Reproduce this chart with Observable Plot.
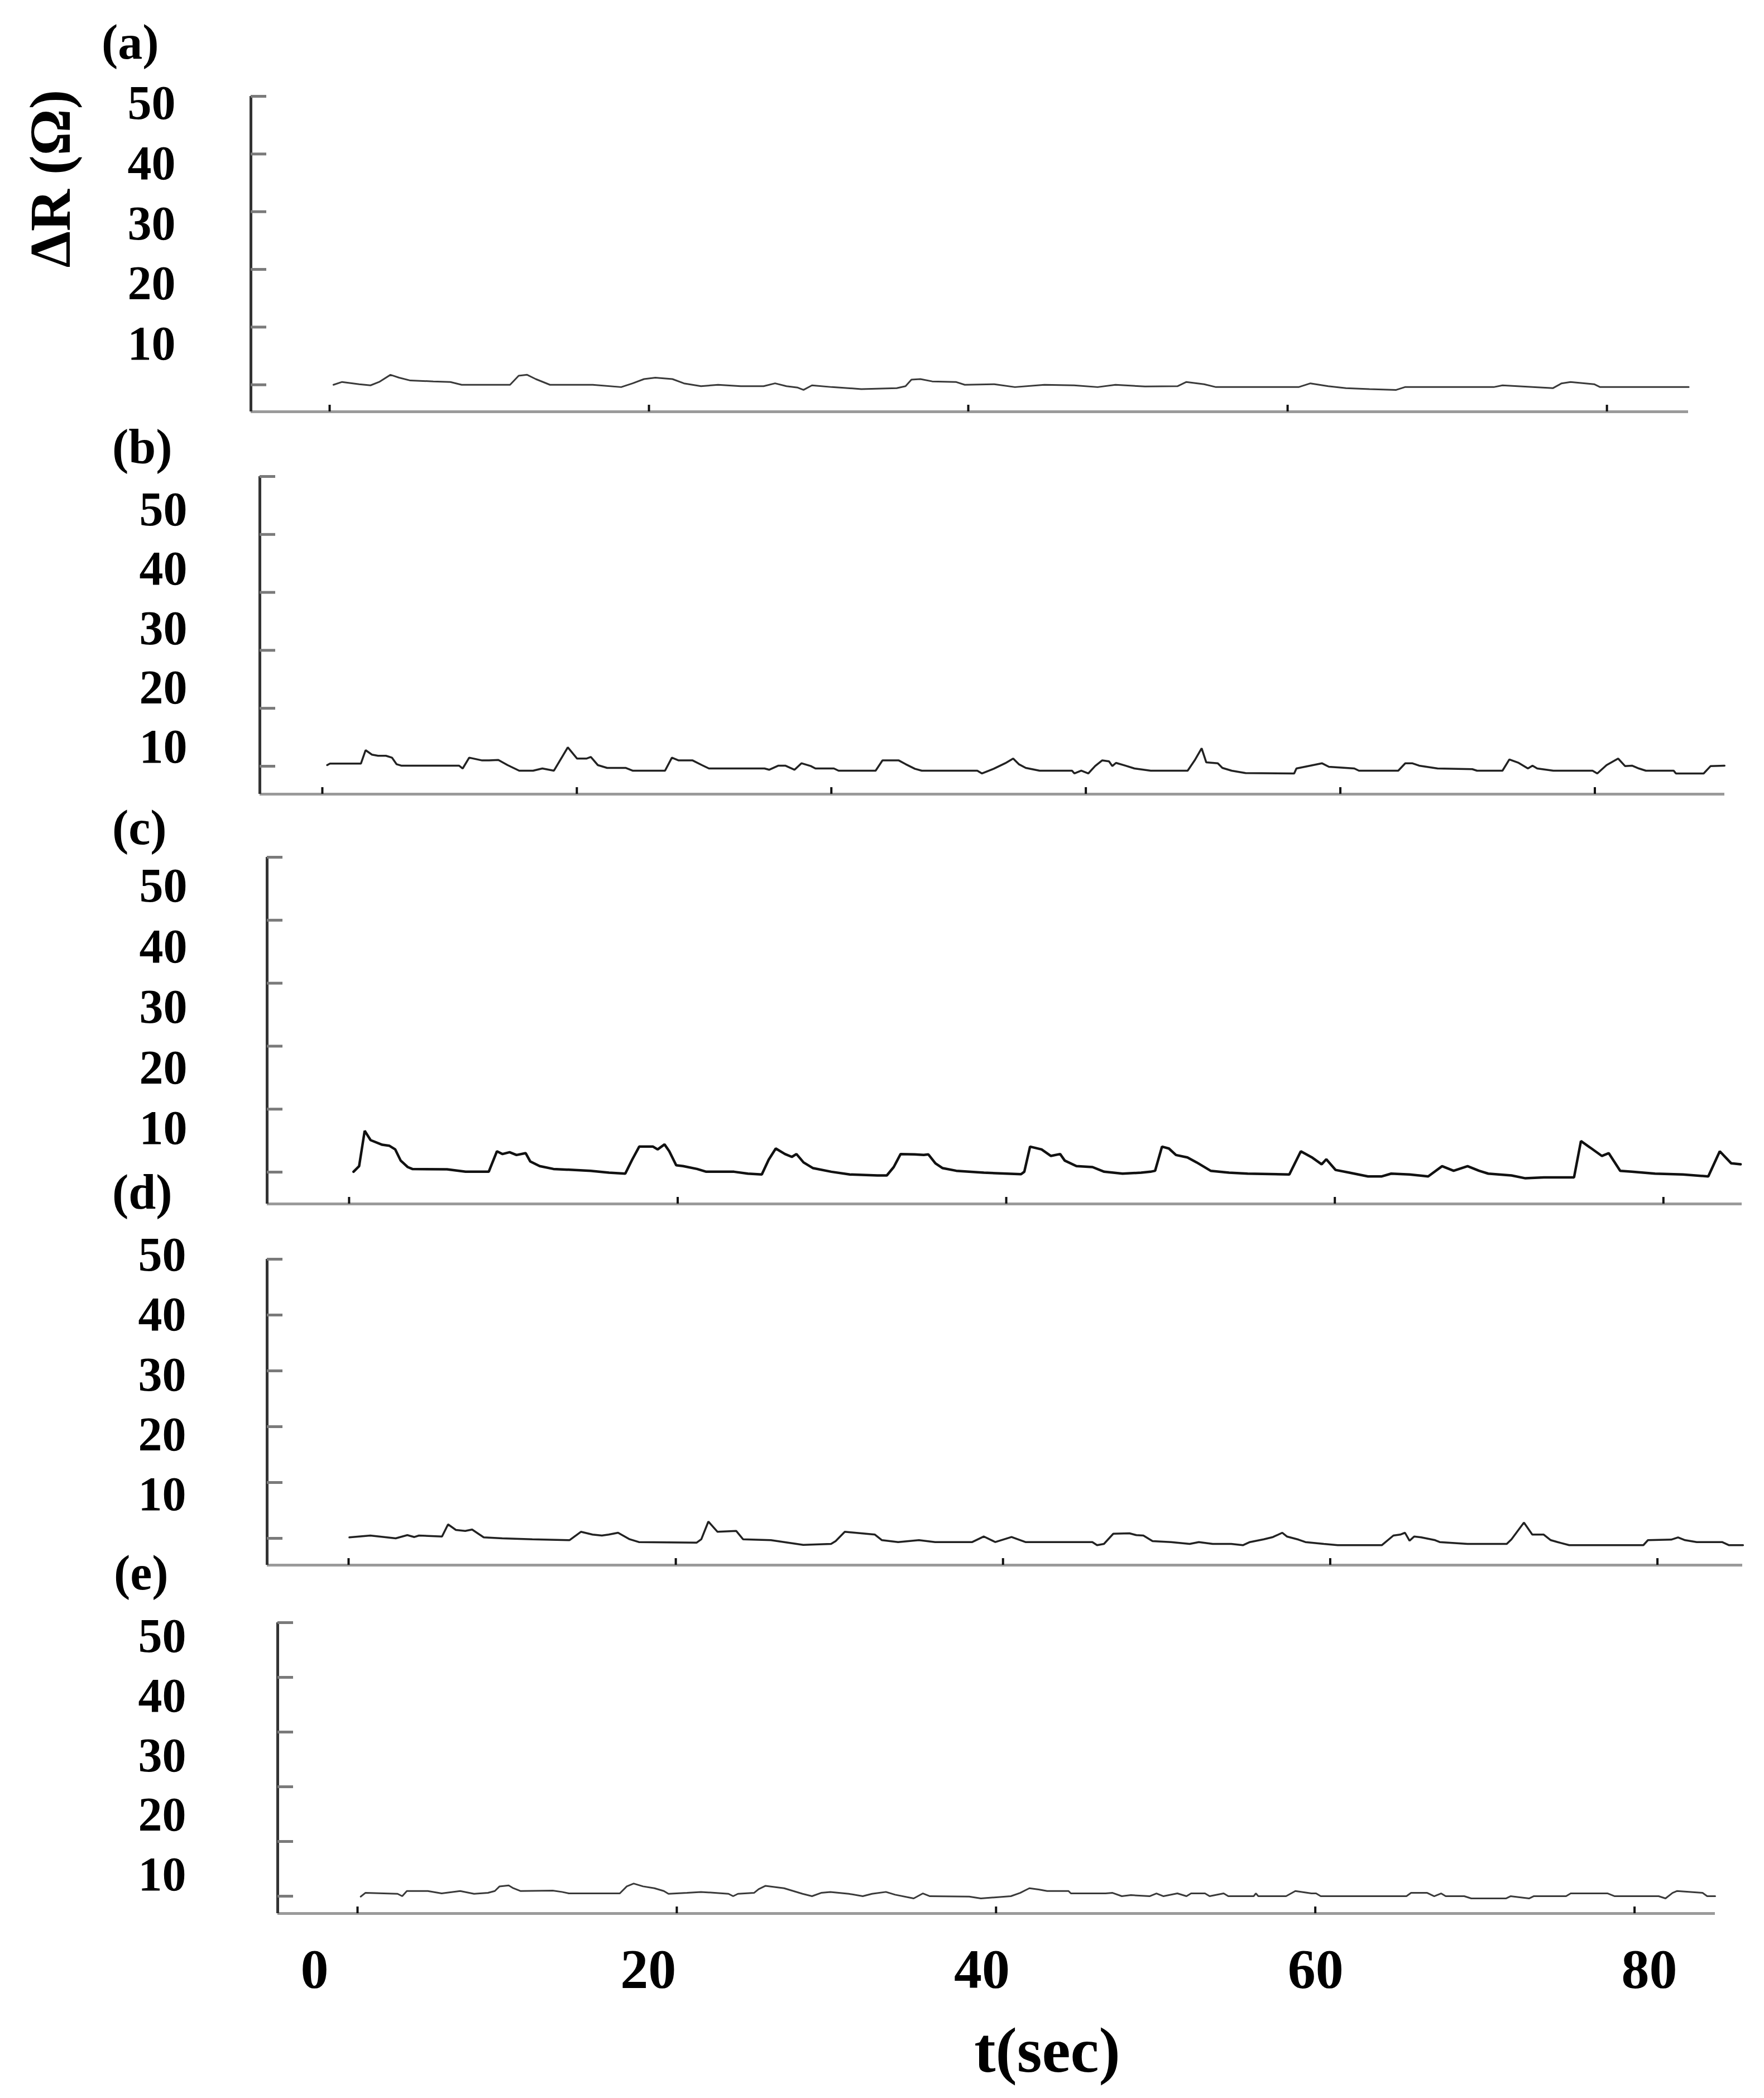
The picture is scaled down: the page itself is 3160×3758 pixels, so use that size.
<!DOCTYPE html>
<html><head><meta charset="utf-8">
<script src="https://cdn.jsdelivr.net/npm/d3@7"></script>
<script src="https://cdn.jsdelivr.net/npm/@observablehq/plot@0.6"></script>
<style>
html,body{margin:0;padding:0;background:#fff;}
#chart{position:relative;width:3160px;height:3758px;background:#fff;overflow:hidden;font-family:'Liberation Serif','Times New Roman',serif;font-weight:bold;color:#000;}
#chart svg{position:absolute;left:0;top:0;}
.lab{position:absolute;line-height:1;white-space:nowrap;font-family:'Liberation Serif','Times New Roman',serif;font-weight:bold;}
</style></head><body><div id="chart"></div>
<script>
// ---- data: [t (sec), ΔR (Ω)] ----
const seriesA = [[0.24,0],[0.78,0.49],[1.85,0.1],[2.56,-0.1],[3.1,0.49],[3.81,1.73],[4.35,1.23],[5.06,0.74],[6.49,0.59],[7.56,0.49],[8.27,0],[11.3,0],[11.84,1.58],[12.37,1.73],[12.91,0.99],[13.8,0],[16.48,0],[18.26,-0.4],[18.98,0.25],[19.69,0.99],[20.4,1.23],[21.47,0.99],[22.19,0.25],[23.26,-0.25],[24.33,0],[25.75,-0.25],[27.18,-0.25],[27.9,0.25],[28.61,-0.25],[29.32,-0.49],[29.68,-0.89],[30.21,-0.1],[31.46,-0.4],[33.3,-0.74],[35.52,-0.59],[36.07,-0.25],[36.44,0.89],[37.0,0.99],[37.74,0.59],[39.22,0.49],[39.78,0],[41.63,0.1],[42.92,-0.4],[44.77,0],[46.63,-0.1],[48.1,-0.4],[49.22,0],[51.07,-0.3],[53.1,-0.25],[53.66,0.49],[54.77,0.1],[55.51,-0.4],[60.69,-0.4],[61.43,0.25],[62.54,-0.25],[63.65,-0.59],[65.13,-0.74],[66.8,-0.89],[67.35,-0.4],[68.83,-0.4],[72.91,-0.4],[73.46,-0.1],[76.61,-0.59],[77.16,0.25],[77.72,0.49],[79.2,0.1],[79.57,-0.4],[85.12,-0.4]];

const seriesB = [[0.38,0.19],[0.6,0.45],[3.03,0.45],[3.4,2.77],[3.9,2.0],[4.38,1.8],[5.0,1.8],[5.47,1.48],[5.83,0.35],[6.2,0.1],[10.74,0.1],[11.03,-0.39],[11.54,1.48],[12.56,1.0],[13.1,1.0],[13.83,1.09],[14.56,0.19],[15.47,-0.77],[16.56,-0.77],[17.29,-0.39],[18.2,-0.77],[19.29,3.25],[20.02,1.32],[20.75,1.32],[21.1,1.6],[21.65,0.19],[22.38,-0.29],[23.83,-0.29],[24.38,-0.77],[26.93,-0.77],[27.47,1.48],[28.0,1.0],[29.1,1.0],[29.83,0.19],[30.38,-0.39],[34.75,-0.39],[35.11,-0.61],[35.84,0.1],[36.38,0.1],[37.11,-0.61],[37.65,0.51],[38.38,0.03],[38.75,-0.39],[40.2,-0.39],[40.57,-0.77],[43.48,-0.77],[44.02,1.0],[45.3,1.0],[45.84,0.35],[46.57,-0.45],[47.11,-0.77],[51.47,-0.77],[51.84,-1.25],[52.75,-0.45],[53.66,0.51],[54.29,1.32],[54.73,0.35],[55.28,-0.29],[56.37,-0.77],[58.91,-0.77],[59.1,-1.25],[59.64,-0.77],[60.19,-1.25],[60.73,0.03],[61.28,1.0],[61.82,0.84],[62.08,0.03],[62.37,0.58],[63.1,0.1],[63.82,-0.39],[65.1,-0.77],[68.0,-0.77],[68.55,1.0],[69.1,3.09],[69.46,0.68],[70.37,0.51],[70.73,-0.29],[71.46,-0.77],[72.55,-1.19],[76.37,-1.25],[76.55,-0.39],[77.64,0.1],[78.55,0.51],[79.1,-0.1],[81.1,-0.39],[81.46,-0.77],[84.55,-0.77],[85.1,0.51],[85.64,0.51],[86.19,0.1],[87.64,-0.39],[90.37,-0.51],[90.74,-0.77],[92.74,-0.77],[93.28,1.16],[94.01,0.58],[94.74,-0.39],[95.1,0.1],[95.47,-0.39],[96.74,-0.77],[99.82,-0.77],[100.19,-1.25],[100.92,0.19],[101.83,1.32],[102.37,0.03],[102.92,0.1],[103.46,-0.39],[104.01,-0.77],[106.19,-0.77],[106.37,-1.25],[108.55,-1.25],[109.1,0.03],[110.19,0.1]];

const seriesC = [[0.27,0.06],[0.61,0.95],[0.95,6.56],[1.31,5.08],[2.02,4.34],[2.44,4.2],[2.81,3.6],[3.14,1.83],[3.57,0.8],[3.85,0.5],[5.96,0.44],[7.09,0.06],[8.5,0.06],[9.0,3.31],[9.34,2.87],[9.77,3.16],[10.19,2.72],[10.75,3.01],[11.03,1.68],[11.6,0.95],[12.44,0.5],[14.7,0.21],[15.82,-0.09],[16.81,-0.24],[17.23,1.98],[17.66,4.05],[18.5,4.05],[18.78,3.6],[19.2,4.4],[19.49,3.31],[19.91,1.09],[20.33,0.95],[21.18,0.5],[21.74,0.06],[23.43,0.06],[24.27,-0.24],[25.12,-0.38],[25.54,1.98],[25.97,3.75],[26.53,2.87],[26.95,2.42],[27.23,2.87],[27.66,1.54],[28.22,0.65],[29.35,0.06],[30.48,-0.38],[32.16,-0.53],[32.73,-0.53],[33.15,0.8],[33.57,2.87],[34.42,2.81],[34.98,2.72],[35.26,2.81],[35.69,1.39],[36.11,0.65],[36.96,0.21],[38.64,-0.09],[40.9,-0.33],[41.1,0.06],[41.45,4.05],[42.15,3.6],[42.72,2.57],[43.28,2.87],[43.56,1.83],[44.27,0.95],[45.25,0.8],[45.96,0.06],[47.08,-0.24],[48.21,-0.09],[48.78,0.06],[49.06,0.21],[49.48,4.05],[49.9,3.75],[50.33,2.72],[51.03,2.33],[51.59,1.54],[52.44,0.21],[53.56,-0.09],[54.69,-0.24],[57.23,-0.38],[57.93,3.31],[58.64,2.28],[59.2,1.24],[59.48,2.04],[60.04,0.35],[60.89,-0.09],[62.02,-0.68],[62.86,-0.68],[63.43,-0.24],[64.55,-0.38],[65.68,-0.68],[66.53,0.95],[67.23,0.21],[68.08,0.95],[68.78,0.21],[69.34,-0.24],[70.75,-0.53],[71.6,-0.98],[72.73,-0.83],[74.56,-0.83],[74.98,4.93],[75.54,3.9],[76.25,2.57],[76.67,3.01],[77.37,0.21],[78.08,0.06],[79.49,-0.24],[81.18,-0.38],[82.73,-0.68],[83.43,3.31],[84.13,1.39],[84.7,1.24]];

const seriesD = [[0.05,0.17],[1.33,0.5],[2.88,0],[3.59,0.57],[4.02,0.23],[4.3,0.5],[5.71,0.33],[6.08,2.5],[6.56,1.5],[7.13,1.33],[7.55,1.57],[7.84,1.0],[8.26,0.17],[9.39,0],[11.23,-0.17],[13.5,-0.33],[14.2,1.17],[14.91,0.67],[15.48,0.5],[15.9,0.67],[16.47,1.0],[17.18,-0.17],[17.74,-0.67],[21.28,-0.77],[21.56,-0.17],[21.99,3.0],[22.55,1.17],[23.69,1.33],[24.11,-0.17],[25.81,-0.33],[27.79,-1.17],[29.49,-1.0],[29.77,-0.5],[30.33,1.17],[32.17,0.67],[32.6,-0.33],[33.59,-0.67],[34.86,-0.33],[35.85,-0.67],[38.12,-0.67],[38.83,0.33],[39.53,-0.67],[40.52,0.23],[41.37,-0.67],[45.46,-0.67],[45.75,-1.23],[46.17,-1.0],[46.74,0.83],[47.73,0.9],[48.15,0.57],[48.58,0.5],[49.14,-0.5],[50.27,-0.67],[51.41,-1.0],[51.97,-0.67],[52.82,-1.0],[53.95,-1.0],[54.66,-1.23],[55.09,-0.67],[55.94,-0.17],[56.5,0.23],[57.07,1.0],[57.35,0.33],[58.06,-0.23],[58.48,-0.67],[59.61,-1.0],[60.46,-1.23],[63.15,-1.23],[63.86,0.5],[64.28,0.67],[64.57,1.0],[64.85,-0.43],[65.13,0.33],[65.56,0.17],[66.41,-0.33],[66.69,-0.67],[68.39,-1.0],[70.79,-1.0],[71.08,-0.17],[71.84,2.83],[72.35,0.67],[73.05,0.67],[73.48,-0.33],[73.9,-0.67],[74.61,-1.23],[79.14,-1.23],[79.42,-0.33],[80.84,-0.23],[81.26,0.17],[81.69,-0.33],[82.4,-0.67],[83.95,-0.67],[84.38,-1.23],[85.23,-1.23]];

const seriesE = [[0.2,-0.07],[0.49,0.61],[2.51,0.44],[2.8,0],[3.09,0.95],[4.4,0.95],[5.27,0.51],[6.43,0.95],[7.3,0.44],[8.17,0.61],[8.6,0.95],[8.9,1.8],[9.47,1.97],[9.76,1.46],[10.2,0.95],[12.23,1.02],[12.81,0.78],[13.24,0.51],[16.43,0.51],[16.87,1.8],[17.3,2.31],[17.88,1.8],[18.6,1.46],[19.19,0.95],[19.48,0.44],[20.64,0.61],[21.51,0.78],[23.24,0.44],[23.53,0],[23.83,0.44],[24.84,0.61],[25.13,1.29],[25.56,1.9],[26.72,1.46],[27.3,0.95],[27.88,0.44],[28.47,0],[29.04,0.61],[29.62,0.78],[30.78,0.44],[31.65,0],[32.23,0.44],[33.1,0.78],[33.68,0.27],[34.84,-0.41],[35.42,0.51],[35.86,0],[38.32,-0.07],[39.05,-0.41],[40.93,0],[41.51,0.61],[42.09,1.46],[42.67,1.22],[43.2,0.95],[44.54,0.95],[44.69,0.51],[46.86,0.51],[47.3,0.61],[47.88,0],[48.45,0.2],[49.62,0],[50.05,0.51],[50.49,0],[51.36,0.51],[51.93,0],[52.22,0.51],[53.09,0.51],[53.38,0],[54.26,0.51],[54.55,0],[56.14,0],[56.28,0.51],[56.43,0],[58.17,0],[58.75,0.95],[59.76,0.51],[60.05,0.51],[60.34,0],[65.71,0],[66.0,0.61],[67.01,0.61],[67.45,0],[67.88,0.51],[68.17,0],[69.33,0],[69.77,-0.41],[71.94,-0.41],[72.23,0],[73.39,-0.41],[73.68,0],[75.71,0],[76.0,0.51],[78.32,0.51],[78.76,0],[81.51,0],[81.94,-0.41],[82.38,0.61],[82.67,0.95],[84.26,0.61],[84.55,0],[85.05,0]];

const panelLetters = ["(a)", "(b)", "(c)", "(d)", "(e)"];
const yTicks = [0, 10, 20, 30, 40, 50];
const yTickLabels = [10, 20, 30, 40, 50];
const xTicks = [0, 20, 40, 60, 80];
const xTicksB = [0, 20, 40, 60, 80, 100];
const xTickLabels = [0, 20, 40, 60, 80];
const yTitle = "ΔR (Ω)";
const xTitle = "t(sec)";

// ---- layout (pixel geometry of each panel) ----
const W = 3160, H = 3758;
const FONT = "'Liberation Serif','Times New Roman',serif";
const panels = [
  {series: seriesA, xt: xTicks,  xd: [-4.93, 85.1],  ymin: -4.67, left: 449, right: 3024, top: 172,  bottom: 737,  lab: {right: 314, y50: 185,  y10: 616},  letter: {x: 182, y: 32},   stroke: "#3a3a3a", sw: 3},
  {series: seriesB, xt: xTicksB, xd: [-4.91, 110.2], ymin: -4.82, left: 465, right: 3089, top: 853,  bottom: 1422, lab: {right: 335, y50: 913,  y10: 1338}, letter: {x: 201, y: 757},  stroke: "#222", sw: 3.5},
  {series: seriesC, xt: xTicks,  xd: [-4.99, 84.78], ymin: -5.05, left: 478, right: 3120, top: 1535, bottom: 2156, lab: {right: 335, y50: 1587, y10: 2021}, letter: {x: 201, y: 1439}, stroke: "#111", sw: 4.5},
  {series: seriesD, xt: xTicks,  xd: [-4.98, 85.2],  ymin: -4.8,  left: 478, right: 3121, top: 2255, bottom: 2803, lab: {right: 333, y50: 2248, y10: 2677}, letter: {x: 201, y: 2092}, stroke: "#222", sw: 3.5},
  {series: seriesE, xt: xTicks,  xd: [-5.0, 85.05],  ymin: -3.16, left: 497, right: 3072, top: 2906, bottom: 3427, lab: {right: 333, y50: 2931, y10: 3358}, letter: {x: 204, y: 2774}, stroke: "#3a3a3a", sw: 3}
];

const chart = document.getElementById("chart");
const svgStyle = `background:transparent;overflow:visible;font-family:${FONT};font-weight:bold;`;

panels.forEach((p, i) => {
  const data = p.series.map(([t, r]) => ({t, r}));
  // data, frame lines and inward ticks
  chart.appendChild(Plot.plot({
    width: W, height: H,
    marginLeft: p.left, marginRight: W - p.right, marginTop: p.top, marginBottom: H - p.bottom,
    x: {domain: p.xd}, y: {domain: [p.ymin, 50]},
    style: svgStyle,
    marks: [
      Plot.ruleY([p.ymin], {stroke: "#9a9a9a", strokeWidth: 5}),
      Plot.ruleX([p.xd[0]], {stroke: "#333", strokeWidth: 5}),
      Plot.axisY({ticks: yTicks, tickSize: -28, tickFormat: () => "", stroke: "#7a7a7a", strokeWidth: 5, label: null}),
      Plot.axisX({ticks: p.xt, tickSize: -12, tickFormat: () => "", stroke: "#111", strokeWidth: 4, label: null}),
      Plot.line(data, {x: "t", y: "r", stroke: p.stroke, strokeWidth: p.sw, strokeLinejoin: "miter"})
    ]
  }));
  // tick labels (set slightly apart from the ticks, as in the original)
  chart.appendChild(Plot.plot({
    width: W, height: H,
    marginLeft: p.lab.right, marginRight: 0, marginTop: p.lab.y50, marginBottom: H - p.lab.y10,
    y: {domain: [10, 50]},
    style: svgStyle,
    marks: [Plot.axisY({ticks: yTickLabels, tickSize: 0, tickPadding: 0, fontSize: 86, fontWeight: "bold", fill: "#000", label: null})]
  }));
  const d = document.createElement("div");
  d.className = "lab";
  d.style.left = p.letter.x + "px";
  d.style.top = p.letter.y + "px";
  d.style.fontSize = "88px";
  d.textContent = panelLetters[i];
  chart.appendChild(d);
});

// bottom shared time labels
chart.appendChild(Plot.plot({
  width: W, height: H,
  marginLeft: 563, marginRight: W - 2954, marginTop: 0, marginBottom: H - 3480,
  x: {domain: [0, 80]},
  style: svgStyle,
  marks: [Plot.axisX({ticks: xTickLabels, tickSize: 0, tickPadding: 8, fontSize: 100, fontWeight: "bold", fill: "#000", label: null})]
}));

// axis titles
const yt = document.createElement("div");
yt.className = "lab";
yt.style.left = "90px"; yt.style.top = "320px"; yt.style.fontSize = "104px";
yt.style.transform = "translate(-50%,-50%) rotate(-90deg)";
yt.textContent = yTitle;
chart.appendChild(yt);

const xt = document.createElement("div");
xt.className = "lab";
xt.style.left = "1876px"; xt.style.top = "3615px"; xt.style.fontSize = "115px";
xt.style.transform = "translateX(-50%)";
xt.textContent = xTitle;
chart.appendChild(xt);
</script></body></html>
